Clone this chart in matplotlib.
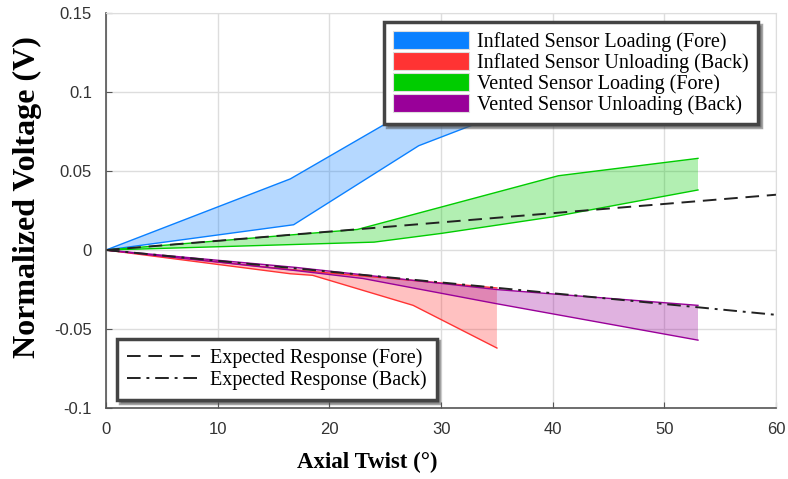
import numpy as np
import matplotlib
matplotlib.use("Agg")
from matplotlib import pyplot as plt
from matplotlib.patches import Patch
from matplotlib.lines import Line2D


# Inflated sensor, loading (fore): upper and lower bounds of the band
inf_load_up_x = [0, 16.5, 28, 35]
inf_load_up_y = [0, 0.045, 0.092, 0.125]
inf_load_lo_x = [0, 16.8, 28, 35]
inf_load_lo_y = [0, 0.016, 0.066, 0.085]

# Inflated sensor, unloading (back)
inf_unl_up_x = [0, 16, 35]
inf_unl_up_y = [0, -0.012, -0.024]
inf_unl_lo_x = [0, 16.5, 18.5, 27.5, 35]
inf_unl_lo_y = [0, -0.015, -0.016, -0.035, -0.062]

# Vented sensor, loading (fore)
ven_load_up_x = [0, 22.5, 40.5, 53]
ven_load_up_y = [0, 0.013, 0.047, 0.058]
ven_load_lo_x = [0, 24, 30, 40, 53]
ven_load_lo_y = [0, 0.005, 0.0105, 0.021, 0.038]

# Vented sensor, unloading (back)
ven_unl_up_x = [0, 17, 35, 53]
ven_unl_up_y = [0, -0.011, -0.025, -0.035]
ven_unl_lo_x = [0, 17, 23, 35, 53]
ven_unl_lo_y = [0, -0.013, -0.018, -0.034, -0.057]

# Expected responses
exp_x = [0, 60]
exp_fore_y = [0, 0.035]
exp_back_y = [0, -0.041]

labels = ["Inflated Sensor Loading (Fore)", "Inflated Sensor Unloading (Back)",
          "Vented Sensor Loading (Fore)", "Vented Sensor Unloading (Back)"]
colors = ["#0a80ff", "#ff3333", "#00cc00", "#990099"]

bands = [
    (inf_load_up_x, inf_load_up_y, inf_load_lo_x, inf_load_lo_y),
    (inf_unl_up_x, inf_unl_up_y, inf_unl_lo_x, inf_unl_lo_y),
    (ven_load_up_x, ven_load_up_y, ven_load_lo_x, ven_load_lo_y),
    (ven_unl_up_x, ven_unl_up_y, ven_unl_lo_x, ven_unl_lo_y),
]

fig = plt.figure(figsize=(7.88, 4.79), dpi=100)
ax = fig.add_axes([0.1345, 0.148, 0.8505, 0.825])

for (ux, uy, lx, ly), c in zip(bands, colors):
    px = np.concatenate([ux, lx[::-1]])
    py = np.concatenate([uy, ly[::-1]])
    ax.fill(px, py, color=c, alpha=0.3, lw=0)
    ax.plot(ux, uy, color=c, lw=1)
    ax.plot(lx, ly, color=c, lw=1)

ax.plot(exp_x, exp_fore_y, color="#222222", lw=1.4, ls=(0, (7, 4)))
ax.plot(exp_x, exp_back_y, color="#222222", lw=1.4, ls=(0, (7, 3, 1.5, 3)))

ax.set_xlim(0, 60)
ax.set_ylim(-0.1, 0.15)
ax.set_xticks(range(0, 61, 10))
ax.set_yticks([-0.1, -0.05, 0, 0.05, 0.1, 0.15])
ax.set_yticklabels(["-0.1", "-0.05", "0", "0.05", "0.1", "0.15"])
ax.grid(True, color="#dddddd", lw=1)
ax.set_axisbelow(True)
for side in ["top", "right"]:
    ax.spines[side].set_color("#dddddd")
for side in ["left", "bottom"]:
    ax.spines[side].set_color("#555555")
    ax.spines[side].set_linewidth(1.2)
ax.tick_params(direction="in", length=4, color="#555555", labelcolor="#333333",
               labelsize=12, pad=10)
for t in ax.get_xticklabels() + ax.get_yticklabels():
    t.set_fontfamily("Liberation Sans")

ax.set_xlabel("Axial Twist (°)", fontfamily="Liberation Serif", fontweight="bold",
              fontsize=16.5)
ax.xaxis.set_label_coords(0.39, -0.11)
ax.set_ylabel("Normalized Voltage (V)", fontfamily="Liberation Serif", fontweight="bold",
              fontsize=23)
ax.yaxis.set_label_coords(-0.096, 0.534)

handles = [Patch(facecolor=c, edgecolor="#dddddd", lw=0.8) for c in colors]
leg1 = ax.legend(handles, labels, loc="upper right", bbox_to_anchor=(0.973, 0.977),
                 prop={"family": "Liberation Serif", "size": 14.5}, fancybox=False,
                 shadow=True, framealpha=1, handlelength=3.8, handleheight=1.0,
                 labelspacing=0.0, handletextpad=0.4, borderpad=0.45, borderaxespad=0)
leg1.get_frame().set_edgecolor("#444444")
leg1.get_frame().set_linewidth(2.5)
ax.add_artist(leg1)

exp_handles = [Line2D([], [], color="#222222", lw=1.4, ls=(0, (7, 4))),
               Line2D([], [], color="#222222", lw=1.4, ls=(0, (7, 3, 1.5, 3)))]
leg2 = ax.legend(exp_handles, ["Expected Response (Fore)", "Expected Response (Back)"],
                 loc="lower left", bbox_to_anchor=(0.017, 0.02),
                 prop={"family": "Liberation Serif", "size": 14.5}, fancybox=False,
                 shadow=True, framealpha=1, handlelength=3.6, labelspacing=0.1,
                 handletextpad=0.5, borderpad=0.5, borderaxespad=0)
leg2.get_frame().set_edgecolor("#444444")
leg2.get_frame().set_linewidth(2.5)

fig.savefig("out.png", dpi=100)
